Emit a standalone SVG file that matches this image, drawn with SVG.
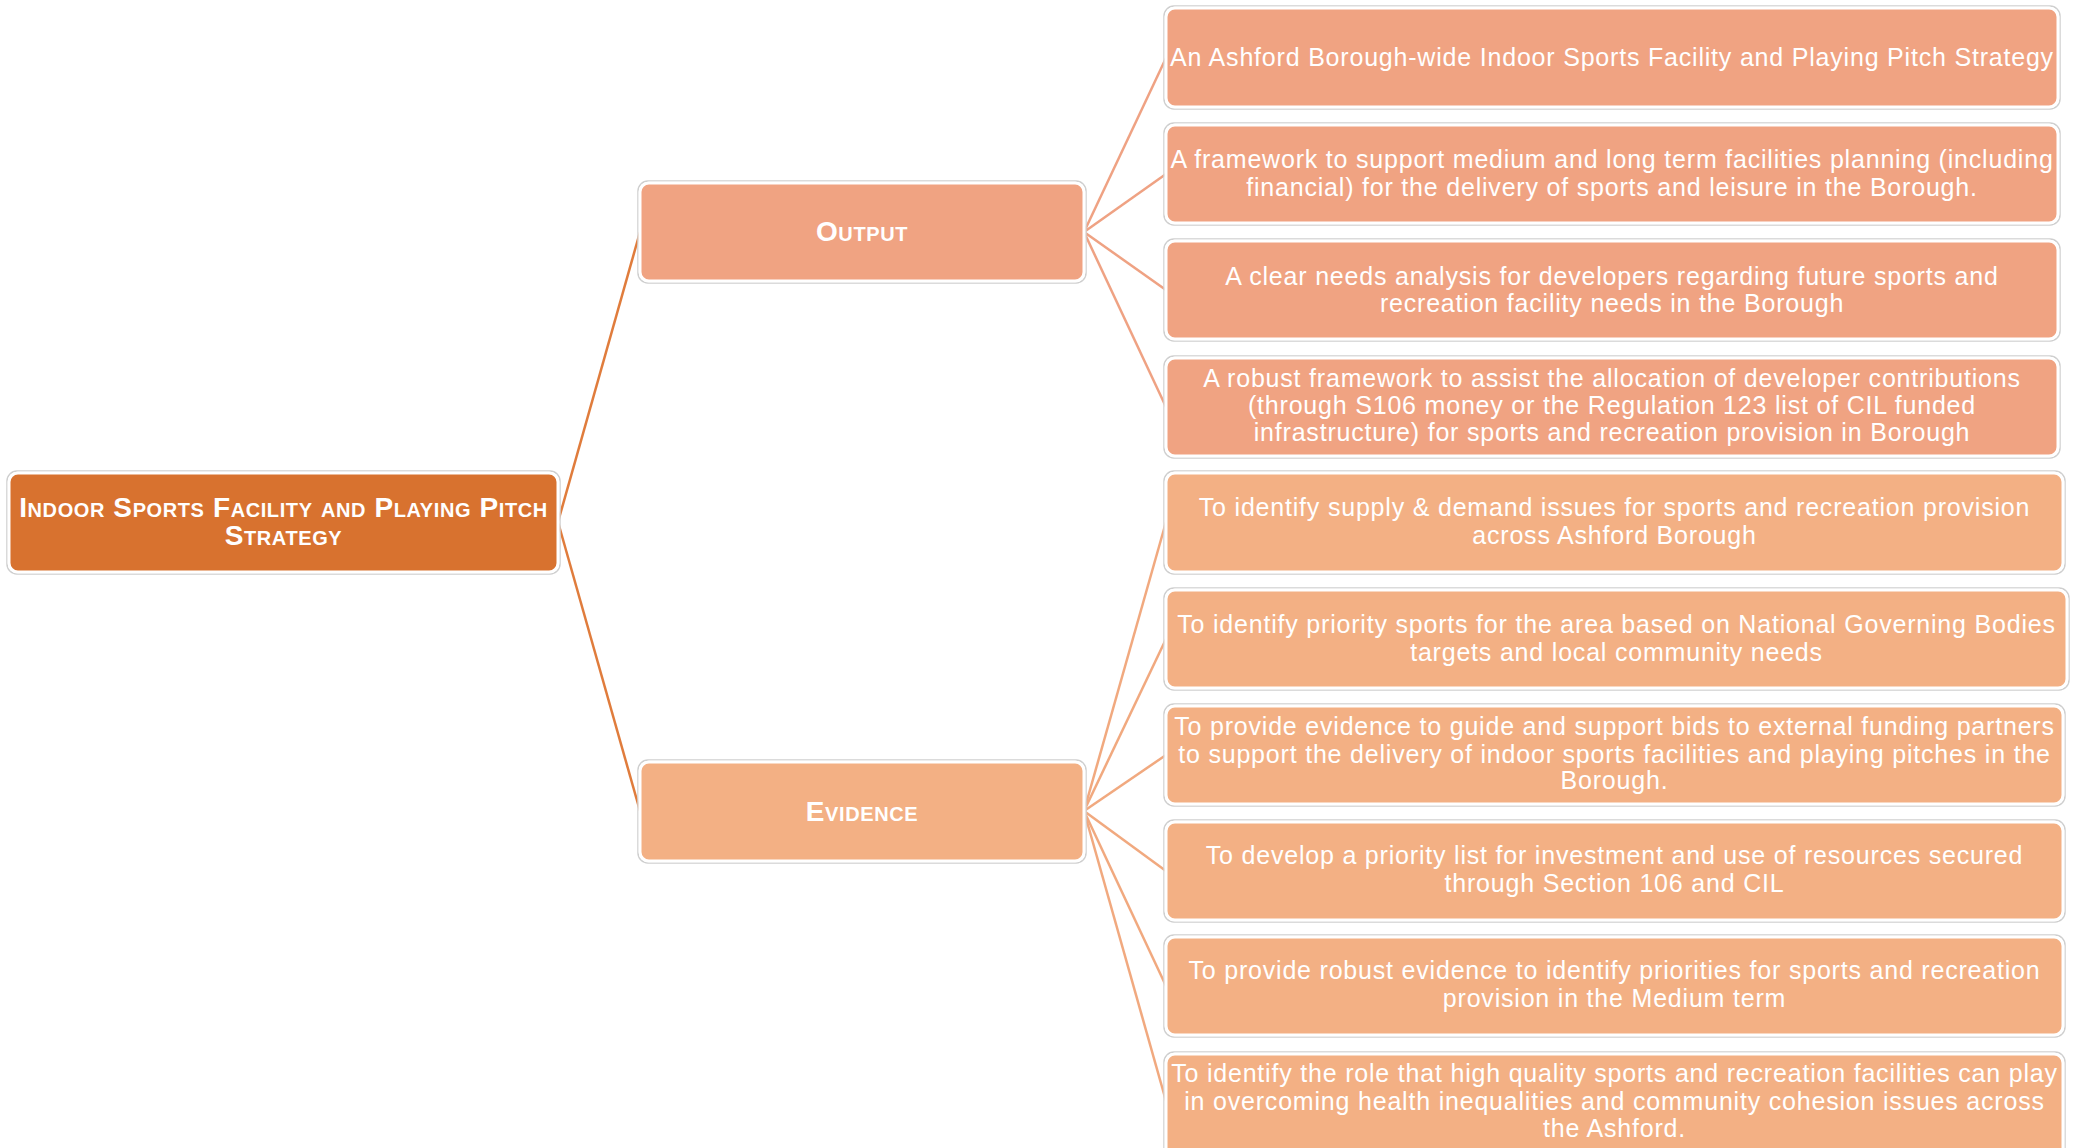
<svg xmlns="http://www.w3.org/2000/svg" width="2078" height="1148" viewBox="0 0 2078 1148">
<style>
.bg{fill:#ffffff}
.edge{fill:none;stroke:#cfcfcf;stroke-width:1.5}
.box{stroke:#ffffff;stroke-width:3}
.root .box{fill:#D8722F}
.out .box{fill:#F0A382}
.evi .box{fill:#F3B084}
text{fill:#ffffff;font-family:"Liberation Sans",Arial,sans-serif;text-anchor:middle}
.t{font-size:25px;letter-spacing:0.8px}
.h{font-size:28px;font-weight:bold;font-variant:small-caps;letter-spacing:0.6px}
.c1{fill:none;stroke:#E07C3C;stroke-width:2.5}
.c2{fill:none;stroke:#EFA283;stroke-width:2.5}
.c3{fill:none;stroke:#F1A97F;stroke-width:2.5}
</style>
<rect class="bg" x="0" y="0" width="2078" height="1148"/>
<g id="connectors">
<line class="c1" x1="558" y1="522" x2="640" y2="232"/>
<line class="c1" x1="558" y1="522" x2="640" y2="811"/>
<line class="c2" x1="1084" y1="232" x2="1166" y2="58"/>
<line class="c2" x1="1084" y1="232" x2="1166" y2="174"/>
<line class="c2" x1="1084" y1="232" x2="1166" y2="290"/>
<line class="c2" x1="1084" y1="232" x2="1166" y2="407"/>
<line class="c3" x1="1084" y1="811" x2="1166" y2="522"/>
<line class="c3" x1="1084" y1="811" x2="1166" y2="639"/>
<line class="c3" x1="1084" y1="811" x2="1166" y2="755"/>
<line class="c3" x1="1084" y1="811" x2="1166" y2="871"/>
<line class="c3" x1="1084" y1="811" x2="1166" y2="986"/>
<line class="c3" x1="1084" y1="811" x2="1166" y2="1101"/>
</g>
<g id="root" class="root">
<rect class="edge" x="7" y="471" width="553" height="103" rx="10"/>
<rect class="box" x="9" y="473" width="549" height="99" rx="9"/>
<text class="h" x="283.5" y="517">Indoor Sports Facility and Playing Pitch</text>
<text class="h" x="283.5" y="545">Strategy</text>
</g>
<g id="output" class="out">
<rect class="edge" x="638" y="181" width="448" height="102" rx="10"/>
<rect class="box" x="640" y="183" width="444" height="98" rx="9"/>
<text class="h" x="862" y="241">Output</text>
</g>
<g id="evidence" class="evi">
<rect class="edge" x="638" y="760" width="448" height="103" rx="10"/>
<rect class="box" x="640" y="762" width="444" height="99" rx="9"/>
<text class="h" x="862" y="821">Evidence</text>
</g>
<g id="out1" class="out">
<rect class="edge" x="1164" y="6" width="896" height="103" rx="10"/>
<rect class="box" x="1166" y="8" width="892" height="99" rx="9"/>
<text class="t" x="1612" y="66">An Ashford Borough-wide Indoor Sports Facility and Playing Pitch Strategy</text>
</g>
<g id="out2" class="out">
<rect class="edge" x="1164" y="123" width="896" height="102" rx="10"/>
<rect class="box" x="1166" y="125" width="892" height="98" rx="9"/>
<text class="t" x="1612" y="168">A framework to support medium  and long term facilities planning (including</text>
<text class="t" x="1612" y="196">financial) for the delivery of sports and leisure in the Borough.</text>
</g>
<g id="out3" class="out">
<rect class="edge" x="1164" y="239" width="896" height="102" rx="10"/>
<rect class="box" x="1166" y="241" width="892" height="98" rx="9"/>
<text class="t" x="1612" y="285">A clear needs analysis for developers regarding future sports and</text>
<text class="t" x="1612" y="312">recreation facility needs in the Borough</text>
</g>
<g id="out4" class="out">
<rect class="edge" x="1164" y="356" width="896" height="102" rx="10"/>
<rect class="box" x="1166" y="358" width="892" height="98" rx="9"/>
<text class="t" x="1612" y="387">A robust framework to assist the allocation of developer contributions</text>
<text class="t" x="1612" y="414">(through S106 money or the Regulation 123 list of CIL funded</text>
<text class="t" x="1612" y="441">infrastructure) for sports and recreation provision in Borough</text>
</g>
<g id="evi1" class="evi">
<rect class="edge" x="1164" y="471" width="901" height="103" rx="10"/>
<rect class="box" x="1166" y="473" width="897" height="99" rx="9"/>
<text class="t" x="1614.5" y="516">To identify supply &amp; demand  issues for sports and recreation provision</text>
<text class="t" x="1614.5" y="544">across Ashford Borough</text>
</g>
<g id="evi2" class="evi">
<rect class="edge" x="1164" y="588" width="905" height="102" rx="10"/>
<rect class="box" x="1166" y="590" width="901" height="98" rx="9"/>
<text class="t" x="1616.5" y="633">To identify priority sports for the area based on National Governing Bodies</text>
<text class="t" x="1616.5" y="661">targets and local community  needs</text>
</g>
<g id="evi3" class="evi">
<rect class="edge" x="1164" y="704" width="901" height="102" rx="10"/>
<rect class="box" x="1166" y="706" width="897" height="98" rx="9"/>
<text class="t" x="1614.5" y="735">To provide evidence to guide and support bids to external funding partners</text>
<text class="t" x="1614.5" y="763">to support the delivery of indoor sports facilities and playing pitches in the</text>
<text class="t" x="1614.5" y="789">Borough.</text>
</g>
<g id="evi4" class="evi">
<rect class="edge" x="1164" y="820" width="901" height="102" rx="10"/>
<rect class="box" x="1166" y="822" width="897" height="98" rx="9"/>
<text class="t" x="1614.5" y="864">To develop a priority list for investment and use of resources secured</text>
<text class="t" x="1614.5" y="892">through Section 106 and CIL</text>
</g>
<g id="evi5" class="evi">
<rect class="edge" x="1164" y="935" width="901" height="102" rx="10"/>
<rect class="box" x="1166" y="937" width="897" height="98" rx="9"/>
<text class="t" x="1614.5" y="979">To provide robust evidence to identify priorities for sports and recreation</text>
<text class="t" x="1614.5" y="1007">provision in the Medium  term</text>
</g>
<g id="evi6" class="evi">
<rect class="edge" x="1164" y="1052" width="901" height="112" rx="10"/>
<rect class="box" x="1166" y="1054" width="897" height="108" rx="9"/>
<text class="t" x="1614.5" y="1082">To identify the role that high quality sports and recreation facilities can play</text>
<text class="t" x="1614.5" y="1110">in overcoming health inequalities and community  cohesion issues across</text>
<text class="t" x="1614.5" y="1137">the Ashford.</text>
</g>
</svg>
